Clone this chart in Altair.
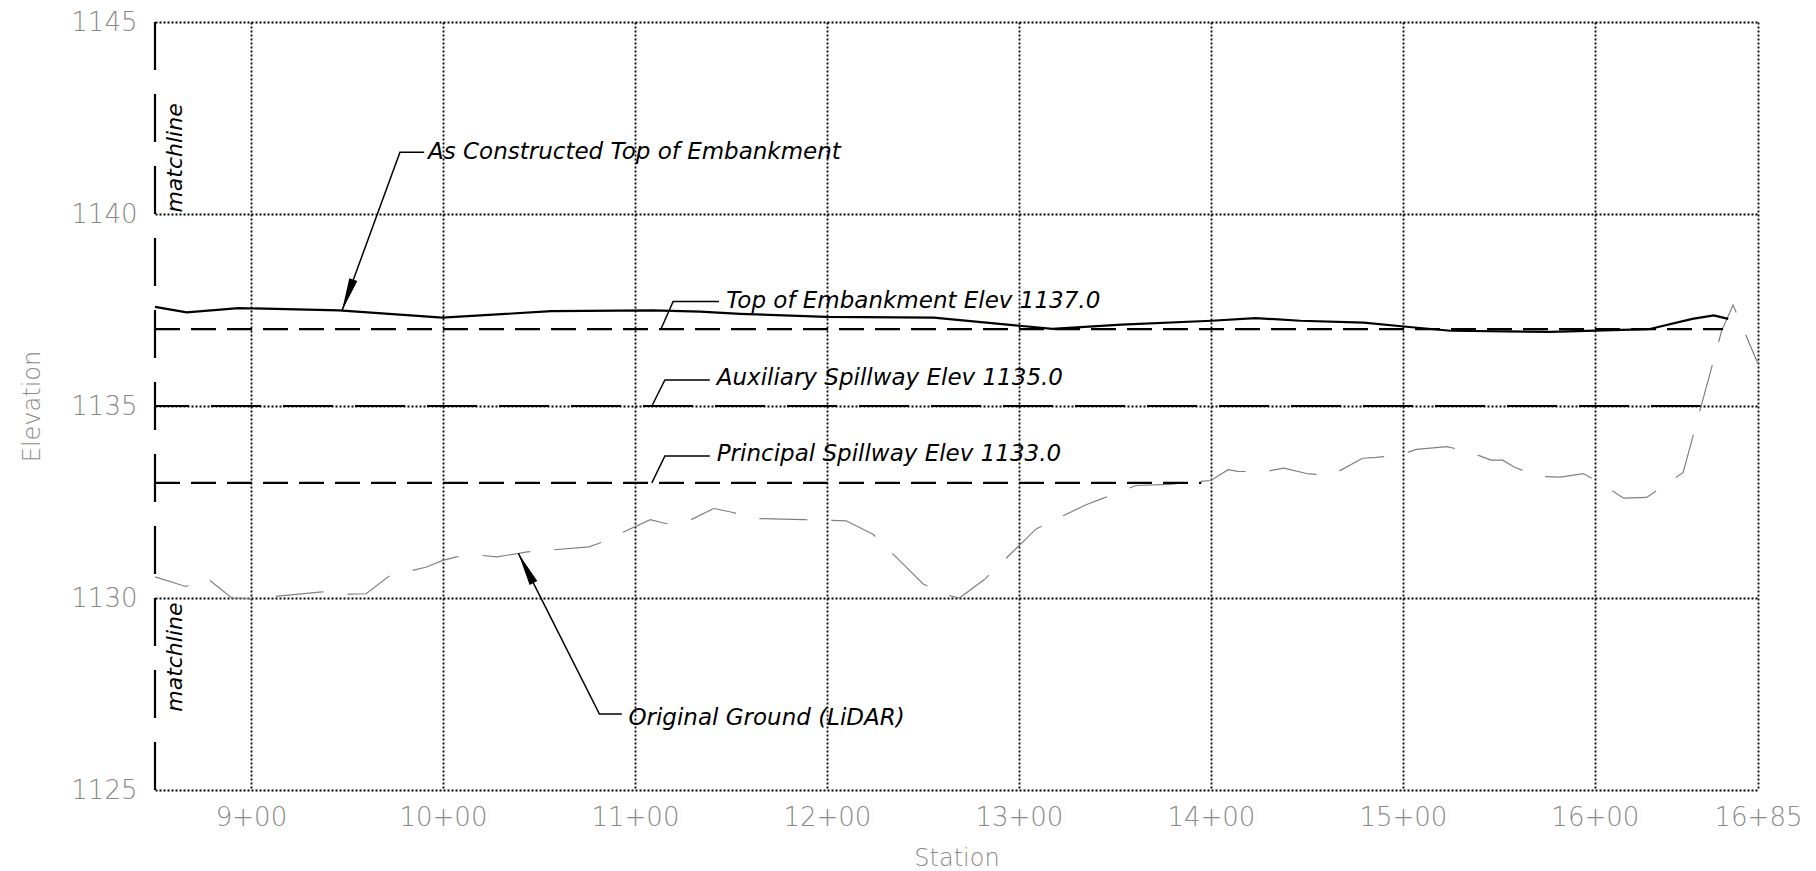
import altair as alt
import pandas as pd

# ---------------- data ----------------
# As constructed top of embankment (station ft, elevation ft)
top_sta = [850, 866.5, 893.6, 945.9, 999.7, 1056.5, 1109.4, 1134, 1154.8, 1199.8,
           1255.6, 1300.3, 1317.4, 1353.4, 1400.4, 1423.2, 1446.6, 1479.6, 1500.5,
           1524.8, 1576.9, 1628.1, 1650.8, 1662.0, 1669.5]
top_elev = [1137.58, 1137.44, 1137.55, 1137.49, 1137.30, 1137.47, 1137.49, 1137.46,
            1137.40, 1137.32, 1137.30, 1137.09, 1137.01, 1137.12, 1137.22, 1137.29,
            1137.22, 1137.17, 1137.07, 1136.96, 1136.93, 1137.00, 1137.27, 1137.36,
            1137.27]

# Original ground (LiDAR)
ground_sta = [850, 866, 877, 890, 900, 937, 951, 960, 972, 991, 1000, 1007, 1020,
              1028, 1044, 1076, 1081, 1108, 1116, 1128, 1141, 1150, 1163, 1188,
              1210, 1224, 1250, 1260, 1269, 1282, 1309, 1335, 1343, 1361, 1378,
              1400, 1409, 1414, 1427, 1438, 1451, 1463, 1479, 1486, 1499, 1507,
              1523, 1535, 1546, 1552, 1558, 1570, 1582, 1594, 1605, 1615, 1627,
              1646, 1666, 1672, 1685]
ground_elev = [1130.55, 1130.30, 1130.52, 1130.00, 1129.98, 1130.16, 1130.10, 1130.11,
               1130.57, 1130.80, 1130.98, 1131.07, 1131.11, 1131.07, 1131.20, 1131.33,
               1131.42, 1132.04, 1131.94, 1132.01, 1132.33, 1132.24, 1132.07, 1132.04,
               1132.01, 1131.66, 1130.37, 1130.11, 1130.00, 1130.48, 1131.80, 1132.43,
               1132.58, 1132.93, 1132.96, 1133.06, 1133.34, 1133.30, 1133.28, 1133.38,
               1133.23, 1133.20, 1133.64, 1133.66, 1133.73, 1133.87, 1133.94, 1133.80,
               1133.59, 1133.59, 1133.41, 1133.17, 1133.15, 1133.24, 1132.93, 1132.60,
               1132.62, 1133.27, 1136.95, 1137.63, 1136.10]

# design elevations
design_names = ["Top of Embankment", "Auxiliary Spillway", "Principal Spillway"]
design_elev = [1137.0, 1135.0, 1133.0]
design_start = [850, 850, 850]
design_end = [1666.8, 1655.0, 1395.0]

# axes
x_ticks = [900, 1000, 1100, 1200, 1300, 1400, 1500, 1600, 1685]
x_labels = ["9+00", "10+00", "11+00", "12+00", "13+00", "14+00", "15+00", "16+00", "16+85"]
y_ticks = [1125, 1130, 1135, 1140, 1145]
x_domain = [850, 1685]
y_domain = [1125, 1145]

# annotations
label_texts = ["As Constructed Top of Embankment", "Top of Embankment Elev 1137.0",
               "Auxiliary Spillway Elev 1135.0", "Principal Spillway Elev 1133.0",
               "Original Ground (LiDAR)"]
label_sta = [992.2, 1147.5, 1142.6, 1142.6, 1096.6]
label_elev = [1141.61, 1137.74, 1135.74, 1133.75, 1126.87]

leader_id = [0, 0, 0, 1, 1, 1, 2, 2, 2, 3, 3, 3, 4, 4, 4]
leader_sta = [947.4, 977.6, 990.2,
              1113.5, 1119.9, 1143.8,
              1108.8, 1115.6, 1139.0,
              1108.8, 1115.6, 1139.0,
              1039.3, 1081.5, 1093.2]
leader_elev = [1137.48, 1141.61, 1141.61,
               1137.00, 1137.72, 1137.72,
               1135.00, 1135.68, 1135.68,
               1133.00, 1133.70, 1133.70,
               1131.16, 1126.98, 1126.98]

arrow_sta = [947.4, 1039.3]
arrow_elev = [1137.48, 1131.16]
arrow_angle = [200, 333]

matchline_sta = [860.2, 860.2]
matchline_elev = [1141.46, 1128.46]

# ---------------- frames ----------------
df_top = pd.DataFrame({"sta": top_sta, "elev": top_elev})
df_ground = pd.DataFrame({"sta": ground_sta, "elev": ground_elev})
df_design = pd.DataFrame({"name": design_names, "elev": design_elev,
                          "s0": design_start, "s1": design_end})
df_labels = pd.DataFrame({"text": label_texts, "sta": label_sta, "elev": label_elev})
df_leader = pd.DataFrame({"id": leader_id, "sta": leader_sta, "elev": leader_elev,
                          "ord": list(range(len(leader_id)))})
df_arrow = pd.DataFrame({"sta": arrow_sta, "elev": arrow_elev, "ang": arrow_angle})
df_match = pd.DataFrame({"sta": matchline_sta, "elev": matchline_elev, "t": ["matchline"] * 2})
df_edge = pd.DataFrame({"sta": [x_domain[0]], "e0": [y_domain[1]], "e1": [y_domain[0]]})

FONT = "DejaVu Sans"
GRAY = "#8a8a8a"

label_expr = " : ".join(
    f"datum.value == {v} ? '{l}'" for v, l in zip(x_ticks, x_labels)
) + " : ''"

xs = alt.Scale(domain=x_domain, nice=False, zero=False)
ys = alt.Scale(domain=y_domain, nice=False, zero=False)

X = alt.X("sta:Q", scale=xs, title="Station",
          axis=alt.Axis(values=x_ticks, labelExpr=label_expr, ticks=False, domain=False,
                        grid=True, gridColor="black", gridDash=[2, 2], gridWidth=1.8,
                        labelFont=FONT, labelFontSize=26, labelColor=GRAY, labelFontWeight=300,
                        labelPadding=14, labelFlush=False,
                        titleFont=FONT, titleFontSize=24, titleColor=GRAY, titleFontWeight=300,
                        titleBaseline="middle", titleY=68))
Y = alt.Y("elev:Q", scale=ys, title="Elevation",
          axis=alt.Axis(values=y_ticks, ticks=False, domain=False, format="d",
                        grid=True, gridColor="black", gridDash=[2, 2], gridWidth=1.8,
                        labelFont=FONT, labelFontSize=26, labelColor=GRAY, labelFontWeight=300,
                        labelPadding=18, labelFlush=False,
                        titleFont=FONT, titleFontSize=24, titleColor=GRAY, titleFontWeight=300,
                        titleAngle=270, titleBaseline="middle", titleAlign="center",
                        titleX=-123, titleY=384))

base_x = alt.X("sta:Q", scale=xs)
base_y = alt.Y("elev:Q", scale=ys)

ground = alt.Chart(df_ground).mark_line(color="#808080", strokeWidth=1.2,
                                        strokeDash=[48, 24], strokeDashOffset=13).encode(
    x=X, y=Y, order="sta:Q")

top_line = alt.Chart(df_top).mark_line(color="black", strokeWidth=2.2).encode(
    x=base_x, y=base_y, order="sta:Q")

def design_rule(name, dash, offset):
    return alt.Chart(df_design[df_design["name"] == name]).mark_rule(
        color="black", strokeWidth=2.2, strokeDash=dash, strokeDashOffset=offset).encode(
        x=alt.X("s0:Q", scale=xs), x2="s1:Q", y=alt.Y("elev:Q", scale=ys))

top_design = design_rule("Top of Embankment", [25, 11], 0)
aux_design = design_rule("Auxiliary Spillway", [50, 22], 16)
prin_design = design_rule("Principal Spillway", [25, 11], 0)

edge = alt.Chart(df_edge).mark_rule(color="black", strokeWidth=2.2, strokeDash=[48, 24]).encode(
    x=alt.X("sta:Q", scale=xs), y=alt.Y("e0:Q", scale=ys), y2="e1:Q")

match_text = alt.Chart(df_match).mark_text(font=FONT, fontSize=22, fontStyle="italic",
                                           fontWeight=300, color="black", angle=270,
                                           align="center", baseline="middle").encode(
    x=base_x, y=base_y, text="t:N")

leaders = alt.Chart(df_leader).mark_line(color="black", strokeWidth=1.5).encode(
    x=base_x, y=base_y, detail="id:N", order="ord:Q")

arrows = alt.Chart(df_arrow).mark_point(
    shape="M0,0L-0.26,2L0.26,2Z", filled=True, color="black", size=1100, opacity=1,
    strokeWidth=0).encode(x=base_x, y=base_y, angle=alt.Angle("ang:Q", scale=None))

labels = alt.Chart(df_labels).mark_text(font=FONT, fontSize=23, fontStyle="italic",
                                        fontWeight=300, color="black", align="left",
                                        baseline="middle").encode(
    x=base_x, y=base_y, text="text:N")

chart = alt.layer(ground, top_design, aux_design, prin_design, top_line, edge,
                  match_text, leaders, arrows, labels).properties(
    width=1603, height=768,
    autosize=alt.AutoSizeParams(type="none"),
    padding={"left": 155, "top": 22, "right": 58, "bottom": 81},
    background="white",
).configure_view(stroke=None)

chart.save("out.html", embed_options={"renderer": "svg", "actions": False})
